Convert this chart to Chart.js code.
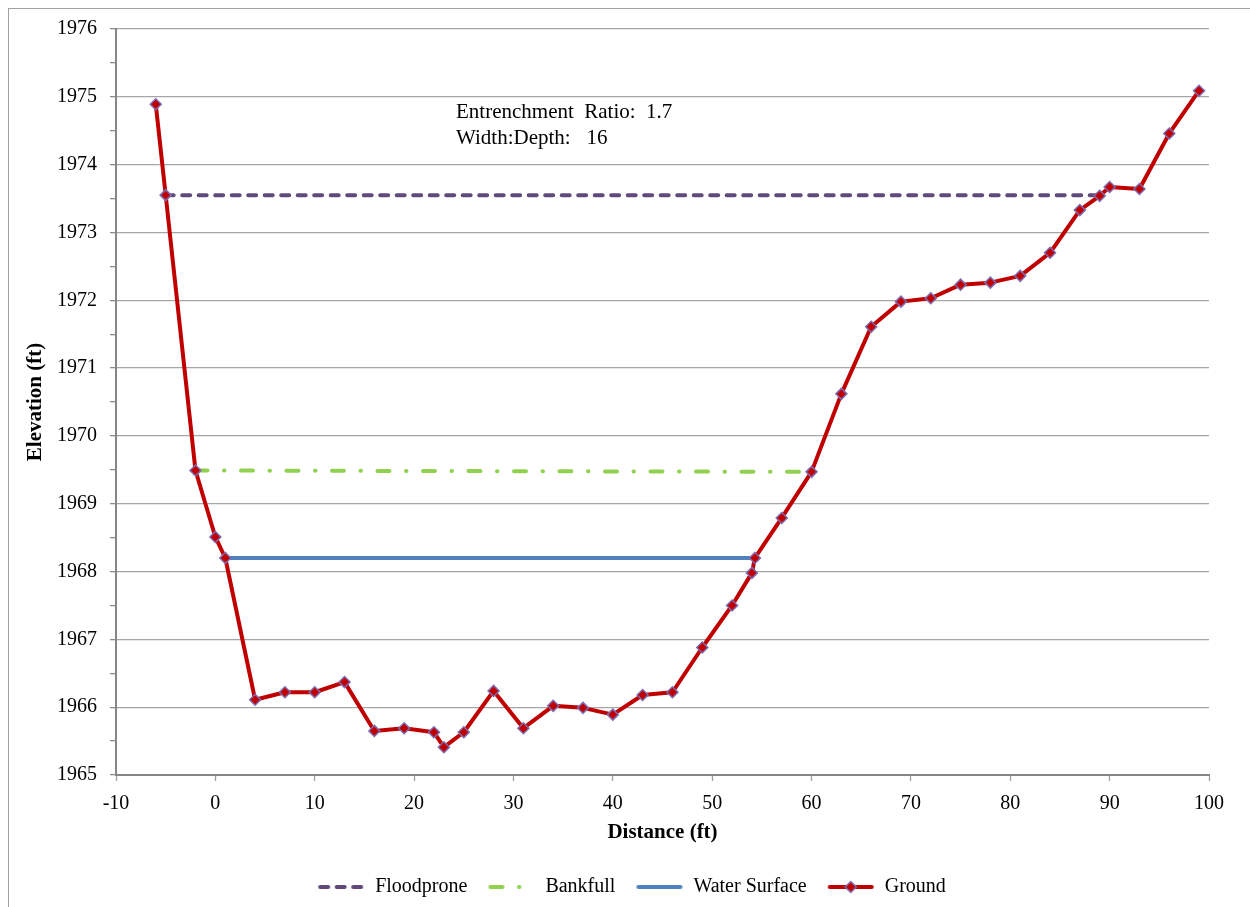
<!DOCTYPE html>
<html>
<head>
<meta charset="utf-8">
<title>Cross Section</title>
<script src="https://cdn.jsdelivr.net/npm/chart.js@4.4.1/dist/chart.umd.min.js"></script>
<style>
  html, body { margin: 0; padding: 0; background: #fff; }
  #wrap { position: relative; width: 1250px; height: 907px; }
  #frame { position: absolute; left: 8px; top: 8px; right: -2px; bottom: -2px;
           border-left: 1px solid #a0a0a0; border-top: 1px solid #a0a0a0; pointer-events: none; }
  canvas { display: block; }
</style>
</head>
<body>
<div id="wrap">
  <canvas id="chart" width="1250" height="907"></canvas>
  <div id="frame"></div>
</div>
<script>
// Surveyed cross-section: station (ft) and ground elevation (ft)
const distance = [-6, -5, -2, 0, 1, 4, 7, 10, 13, 16, 19, 22, 23, 25, 28, 31, 34, 37, 40, 43,
                  46, 49, 52, 54, 54.3, 57, 60, 63, 66, 69, 72, 75, 78, 81, 84, 87, 89, 90, 93, 96, 99];
const elevation = [1974.89, 1973.55, 1969.49, 1968.51, 1968.2, 1966.11, 1966.22, 1966.22, 1966.37, 1965.65,
                   1965.69, 1965.63, 1965.41, 1965.63, 1966.24, 1965.69, 1966.02, 1965.99, 1965.89, 1966.18,
                   1966.22, 1966.88, 1967.5, 1967.98, 1968.2, 1968.79, 1969.47, 1970.62, 1971.61, 1971.98,
                   1972.03, 1972.23, 1972.26, 1972.36, 1972.7, 1973.33, 1973.54, 1973.67, 1973.64, 1974.46, 1975.09];

// Reference water levels (start and end stations, elevations)
const floodproneX = [-5, 89];
const floodproneY = [1973.55, 1973.55];
const bankfullX = [-2, 60];
const bankfullY = [1969.49, 1969.47];
const waterX = [1, 54.3];
const waterY = [1968.2, 1968.2];

const seriesNames = ['Floodprone', 'Bankfull', 'Water Surface', 'Ground'];
const xTickRange = [-10, 100, 10];
const yTickRange = [1965, 1976, 1];
const notes = ['Entrenchment  Ratio:  1.7', 'Width:Depth:   16'];

const SERIF = '"Liberation Serif", "Times New Roman", serif';
const COLORS = { flood: '#604a7b', bank: '#92d050', water: '#4f81bd', ground: '#c00000', marker: '#7e6bb0' };
const DASH_FLOOD = [8, 8.5];
const DASH_BANK = [12, 16.5, 0.5, 16.5];

function pairs(xs, ys) { return xs.map((x, i) => ({ x: x, y: ys[i] })); }

// Small line samples used as legend symbols
function legendSample(color, dash, marker) {
  const c = document.createElement('canvas');
  c.width = 48; c.height = 14;
  const g = c.getContext('2d');
  g.strokeStyle = color; g.lineWidth = 4; g.lineCap = 'round';
  g.setLineDash(dash);
  g.beginPath(); g.moveTo(3, 7); g.lineTo(45, 7); g.stroke();
  if (marker) {
    g.setLineDash([]);
    g.beginPath(); g.moveTo(24, 1.5); g.lineTo(29.5, 7); g.lineTo(24, 12.5); g.lineTo(18.5, 7); g.closePath();
    g.fillStyle = COLORS.ground; g.fill();
    g.lineWidth = 1.5; g.strokeStyle = COLORS.marker; g.stroke();
  }
  return c;
}

const samples = [
  legendSample(COLORS.flood, DASH_FLOOD, false),
  legendSample(COLORS.bank, DASH_BANK, false),
  legendSample(COLORS.water, [], false),
  legendSample(COLORS.ground, [], true)
];

const notesPlugin = {
  id: 'notes',
  afterDraw(chart) {
    const { ctx, chartArea } = chart;
    ctx.save();
    ctx.font = '21px ' + SERIF;
    ctx.fillStyle = '#000';
    ctx.textBaseline = 'middle';
    ctx.textAlign = 'left';
    notes.forEach((t, i) => ctx.fillText(t, chartArea.left + 340, chartArea.top + 83 + i * 26));
    ctx.restore();
  }
};

// Nudge the legend row so it sits a little right of the canvas centre
const legendShift = {
  id: 'legendShift',
  afterLayout(chart) {
    if (chart.legend) { chart.legend.left += 27; chart.legend.right += 27; }
  }
};

const LAYOUT_BOTTOM = 0;

new Chart(document.getElementById('chart'), {
  type: 'scatter',
  data: {
    datasets: [
      { label: seriesNames[0], data: pairs(floodproneX, floodproneY), showLine: true, order: 3,
        borderColor: COLORS.flood, borderWidth: 4, borderDash: DASH_FLOOD, borderCapStyle: 'round',
        pointRadius: 0, pointHoverRadius: 0 },
      { label: seriesNames[1], data: pairs(bankfullX, bankfullY), showLine: true, order: 2,
        borderColor: COLORS.bank, borderWidth: 4, borderDash: DASH_BANK, borderCapStyle: 'round',
        pointRadius: 0, pointHoverRadius: 0 },
      { label: seriesNames[2], data: pairs(waterX, waterY), showLine: true, order: 1,
        borderColor: COLORS.water, borderWidth: 4, pointRadius: 0, pointHoverRadius: 0 },
      { label: seriesNames[3], data: pairs(distance, elevation), showLine: true, order: 0,
        borderColor: COLORS.ground, borderWidth: 4, borderJoinStyle: 'round',
        pointStyle: 'rectRot', pointRadius: 5.5, pointBackgroundColor: COLORS.ground,
        pointBorderColor: COLORS.marker, pointBorderWidth: 1.5 }
    ]
  },
  options: {
    responsive: false,
    animation: false,
    layout: { padding: { left: 0, right: 41, top: 29, bottom: LAYOUT_BOTTOM } },
    plugins: {
      tooltip: { enabled: false },
      legend: {
        position: 'bottom',
        labels: {
          usePointStyle: true,
          pointStyleWidth: 48,
          boxHeight: 14,
          padding: 20,
          color: '#000',
          font: { family: SERIF, size: 20 },
          generateLabels: () => seriesNames.map((name, i) => ({
            text: name, pointStyle: samples[i], fillStyle: 'transparent',
            strokeStyle: 'transparent', lineWidth: 0, hidden: false, datasetIndex: i
          }))
        }
      }
    },
    scales: {
      x: {
        type: 'linear',
        min: xTickRange[0], max: xTickRange[1],
        ticks: { stepSize: xTickRange[2], color: '#000', padding: 11, font: { family: SERIF, size: 20 } },
        grid: { drawOnChartArea: false, drawTicks: true, tickLength: 6, tickColor: '#a0a0a0', tickWidth: 1.3 },
        border: { color: '#868686', width: 2 },
        title: { display: true, text: 'Distance (ft)', color: '#000',
                 font: { family: SERIF, size: 21, weight: 'bold' }, padding: { top: 0, bottom: 12 } },
        afterFit(scale) {
          const lg = scale.chart.legend ? scale.chart.legend.height : 0;
          scale.height = scale.chart.height - 775 - lg - LAYOUT_BOTTOM;
        }
      },
      y: {
        type: 'linear',
        min: yTickRange[0], max: yTickRange[1],
        afterBuildTicks(scale) {
          const t = [];
          for (let v = yTickRange[0]; v <= yTickRange[1] + 1e-9; v += yTickRange[2] / 2) t.push({ value: v });
          scale.ticks = t;
        },
        ticks: {
          autoSkip: false, color: '#000', padding: 13, font: { family: SERIF, size: 20 },
          callback: v => (Math.abs(v - Math.round(v)) < 1e-6 ? String(Math.round(v)) : '')
        },
        grid: {
          color: c => (c.tick && Math.abs(c.tick.value - Math.round(c.tick.value)) < 1e-6 ? '#a6a6a6' : 'rgba(0,0,0,0)'),
          lineWidth: 1.3, tickLength: 6, tickColor: '#8c8c8c', tickWidth: 1.3
        },
        border: { color: '#868686', width: 2 },
        title: { display: true, text: 'Elevation (ft)', color: '#000',
                 font: { family: SERIF, size: 21, weight: 'bold' }, padding: { top: 23, bottom: 0 } },
        afterFit(scale) { scale.width = 116; }
      }
    }
  },
  plugins: [notesPlugin, legendShift]
});
</script>
</body>
</html>
